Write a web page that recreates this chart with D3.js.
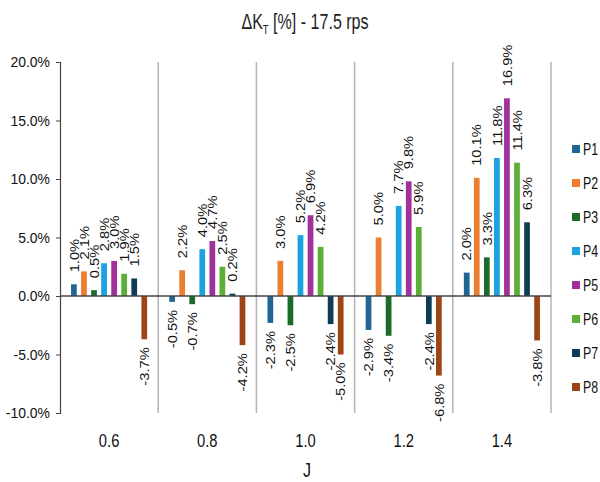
<!DOCTYPE html>
<html>
<head>
<meta charset="utf-8">
<script src="https://cdn.jsdelivr.net/npm/d3@7"></script>
<style>
  body { margin: 0; background: #fff; }
  svg { display: block; font-family: "Liberation Sans", Arial, sans-serif; }
</style>
</head>
<body>
<svg id="chart" width="600" height="482"></svg>
<script>
const categories = ["0.6", "0.8", "1.0", "1.2", "1.4"];
const series = ["P1", "P2", "P3", "P4", "P5", "P6", "P7", "P8"];
const colors = ["#1F6790", "#ED7D31", "#1D6B2B", "#1BA2E0", "#A2309B", "#5BAF37", "#0F3C55", "#9D4515"];
const values = [
    [1.0, 2.1, 0.5, 2.8, 3.0, 1.9, 1.5, -3.7],
    [-0.5, 2.2, -0.7, 4.0, 4.7, 2.5, 0.2, -4.2],
    [-2.3, 3.0, -2.5, 5.2, 6.9, 4.2, -2.4, -5.0],
    [-2.9, 5.0, -3.4, 7.7, 9.8, 5.9, -2.4, -6.8],
    [2.0, 10.1, 3.3, 11.8, 16.9, 11.4, 6.3, -3.8]
];
const yTicks = [-10, -5, 0, 5, 10, 15, 20];

const svg = d3.select("#chart");
const plotLeft = 60, plotRight = 551, plotTop = 62, plotBottom = 413;

const x = d3.scaleBand().domain(categories).range([plotLeft, plotRight]);
const xInner = d3.scaleBand().domain(series).range([0, x.bandwidth()])
    .paddingInner(0.43).paddingOuter(1.1);
const y = d3.scaleLinear().domain([-10, 20]).range([plotBottom, plotTop]);

// title (the original font is condensed, so squeeze it horizontally)
const title = svg.append("text")
    .attr("transform", "translate(305,29) scale(0.73,1)")
    .attr("text-anchor", "middle")
    .attr("font-size", 22)
    .attr("fill", "#222");
title.append("tspan").text("ΔK");
title.append("tspan").attr("font-size", 13).attr("dy", 5).text("T");
title.append("tspan").attr("dy", -5).text(" [%] - 17.5 rps");

// category separators
svg.append("g").selectAll("line")
    .data(categories.slice(1).concat(["end"]))
    .enter().append("line")
    .attr("x1", d => d === "end" ? plotRight : x(d))
    .attr("x2", d => d === "end" ? plotRight : x(d))
    .attr("y1", plotTop).attr("y2", plotBottom)
    .attr("stroke", "#b4b4b4").attr("stroke-width", 1.5);

// y axis
const yAxis = svg.append("g")
    .attr("transform", `translate(${plotLeft},0)`)
    .call(d3.axisLeft(y).tickValues(yTicks).tickSize(4).tickPadding(6)
        .tickFormat(d => d.toFixed(1) + "%"));
yAxis.select(".domain").attr("stroke", "#444").attr("stroke-width", 1.2);
yAxis.selectAll(".tick line").attr("stroke", "#444");
yAxis.selectAll(".tick text")
    .attr("x", 0)
    .attr("transform", "translate(-10,0) scale(0.9,1)")
    .attr("font-size", 15.5)
    .attr("font-family", "Liberation Sans, Arial, sans-serif")
    .attr("fill", "#111");

// bars
const groups = svg.append("g").selectAll("g")
    .data(categories)
    .enter().append("g")
    .attr("transform", d => `translate(${x(d)},0)`);

groups.selectAll("rect")
    .data((c, i) => values[i].map((v, j) => ({s: series[j], v: v, c: colors[j]})))
    .enter().append("rect")
    .attr("x", d => xInner(d.s))
    .attr("width", xInner.bandwidth())
    .attr("y", d => y(Math.max(0, d.v)))
    .attr("height", d => Math.abs(y(d.v) - y(0)))
    .attr("fill", d => d.c);

// data labels, rotated
groups.selectAll("text")
    .data((c, i) => values[i].map((v, j) => ({s: series[j], v: v})))
    .enter().append("text")
    .attr("transform", d => {
        const cx = xInner(d.s) + xInner.bandwidth() / 2;
        const cy = d.v >= 0 ? y(d.v) - 12 : y(d.v) + 8;
        return `translate(${cx},${cy}) rotate(-90) scale(1.13,1)`;
    })
    .attr("dy", "0.36em")
    .attr("text-anchor", d => d.v >= 0 ? "start" : "end")
    .attr("font-size", 13)
    .attr("fill", "#111")
    .text(d => d.v.toFixed(1) + "%");

// zero line
svg.append("line")
    .attr("x1", plotLeft).attr("x2", plotRight)
    .attr("y1", y(0)).attr("y2", y(0))
    .attr("stroke", "#444").attr("stroke-width", 1.5);

// x labels
svg.append("g").selectAll("text")
    .data(categories)
    .enter().append("text")
    .attr("transform", d => `translate(${x(d) + x.bandwidth() / 2},447) scale(0.82,1)`)
    .attr("text-anchor", "middle")
    .attr("font-size", 18)
    .attr("fill", "#111")
    .text(d => d);

svg.append("text")
    .attr("transform", "translate(307,477) scale(0.8,1)")
    .attr("text-anchor", "middle")
    .attr("font-size", 20)
    .attr("fill", "#111")
    .text("J");

// legend
const legend = svg.append("g").selectAll("g")
    .data(series)
    .enter().append("g")
    .attr("transform", (d, i) => `translate(572,${149 + i * 34})`);
legend.append("rect")
    .attr("x", 0).attr("y", -4)
    .attr("width", 8).attr("height", 8)
    .attr("fill", (d, i) => colors[i]);
legend.append("text")
    .attr("transform", "translate(11,0) scale(0.75,1)")
    .attr("dy", "0.36em")
    .attr("font-size", 16.5)
    .attr("fill", "#111")
    .text(d => d);
</script>
</body>
</html>
